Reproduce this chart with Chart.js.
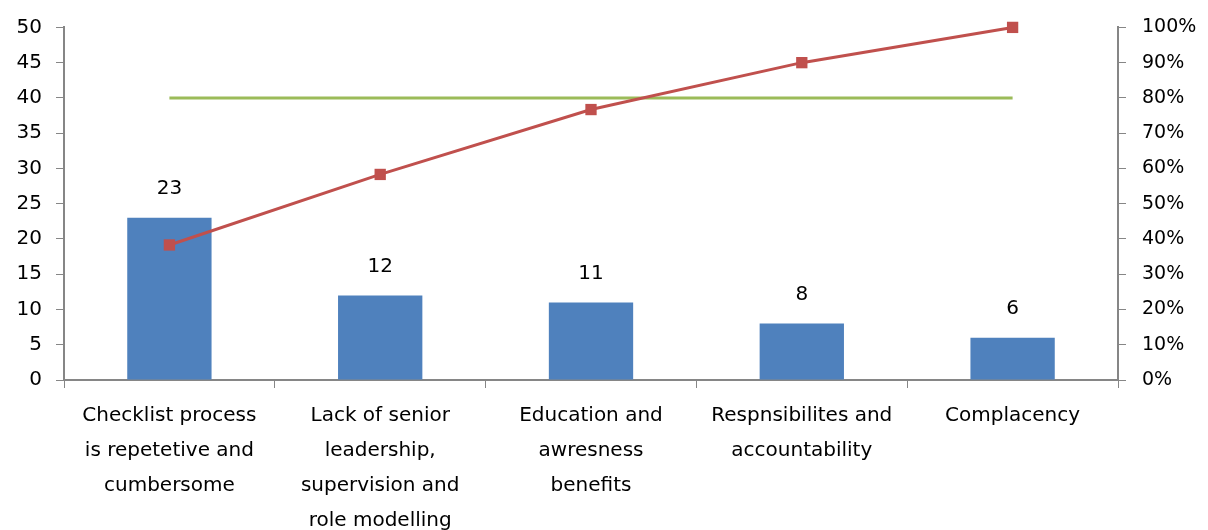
<!DOCTYPE html>
<html>
<head>
<meta charset="utf-8">
<script src="https://cdn.jsdelivr.net/npm/chart.js@4.4.0/dist/chart.umd.min.js"></script>
<style>
  html, body { margin: 0; padding: 0; background: #fff; }
  #wrap { width: 1208px; height: 530px; }
</style>
</head>
<body>
<div id="wrap"><canvas id="pareto"></canvas></div>
<script>
// Pareto data
const categories = [
    ["Checklist process", "is repetetive and", "cumbersome"],
    ["Lack of senior", "leadership,", "supervision and", "role modelling"],
    ["Education and", "awresness", "benefits"],
    ["Respnsibilites and", "accountability"],
    ["Complacency"]
];
const counts = [23, 12, 11, 8, 6];
const cumulativePct = [38.3, 58.3, 76.7, 90, 100];
const thresholdPct = [80, 80, 80, 80, 80];

const leftTicks = { min: 0, max: 50, step: 5 };
const rightTicks = { min: 0, max: 100, step: 10 };

const axisGray = "#868686";
const fontFamily = "'DejaVu Sans', sans-serif";

// Draw the count above each bar
const barLabels = {
    id: "barLabels",
    afterDatasetsDraw(chart) {
        const ctx = chart.ctx;
        const meta = chart.getDatasetMeta(2);
        ctx.save();
        ctx.font = "20px " + fontFamily;
        ctx.fillStyle = "#000";
        ctx.textAlign = "center";
        ctx.textBaseline = "middle";
        meta.data.forEach(function(bar, i) {
            ctx.fillText(String(counts[i]), bar.x, bar.y - 29);
        });
        ctx.restore();
    }
};

new Chart(document.getElementById("pareto"), {
    data: {
        labels: categories,
        datasets: [
            {
                type: "line",
                data: cumulativePct,
                yAxisID: "yPct",
                borderColor: "#C0504D",
                backgroundColor: "#C0504D",
                borderWidth: 3,
                pointStyle: "rect",
                pointRadius: 8,
                pointBorderWidth: 0,
                clip: false,
                order: 0
            },
            {
                type: "line",
                data: thresholdPct,
                yAxisID: "yPct",
                borderColor: "#9BBB59",
                borderWidth: 3,
                pointRadius: 0,
                order: 1
            },
            {
                type: "bar",
                data: counts,
                yAxisID: "y",
                backgroundColor: "#4F81BD",
                categoryPercentage: 1,
                barPercentage: 0.4,
                order: 2
            }
        ]
    },
    options: {
        responsive: true,
        maintainAspectRatio: false,
        animation: false,
        layout: { padding: { top: 14, right: 12, left: 4, bottom: 0 } },
        plugins: {
            legend: { display: false },
            tooltip: { enabled: false }
        },
        scales: {
            x: {
                offset: true,
                afterFit: function(scale) { scale.height = 150; },
                grid: {
                    offset: true,
                    drawOnChartArea: false,
                    drawTicks: true,
                    tickLength: 8,
                    color: axisGray
                },
                border: { color: axisGray, width: 2 },
                ticks: {
                    color: "#000",
                    font: { family: fontFamily, size: 20, lineHeight: 1.75 },
                    maxRotation: 0,
                    autoSkip: false,
                    padding: 10
                }
            },
            y: {
                position: "left",
                min: leftTicks.min,
                max: leftTicks.max,
                afterFit: function(scale) { scale.width = 60; },
                grid: {
                    drawOnChartArea: false,
                    drawTicks: true,
                    tickLength: 8,
                    color: axisGray
                },
                border: { color: axisGray, width: 2 },
                ticks: {
                    stepSize: leftTicks.step,
                    color: "#000",
                    font: { family: fontFamily, size: 20 },
                    padding: 14
                }
            },
            yPct: {
                position: "right",
                min: rightTicks.min,
                max: rightTicks.max,
                afterFit: function(scale) { scale.width = 78; },
                grid: {
                    drawOnChartArea: false,
                    drawTicks: true,
                    tickLength: 8,
                    color: axisGray
                },
                border: { color: axisGray, width: 2 },
                ticks: {
                    stepSize: rightTicks.step,
                    color: "#000",
                    font: { family: fontFamily, size: 19 },
                    padding: 16,
                    callback: function(v) { return v + "%"; }
                }
            }
        }
    },
    plugins: [barLabels]
});
</script>
</body>
</html>
